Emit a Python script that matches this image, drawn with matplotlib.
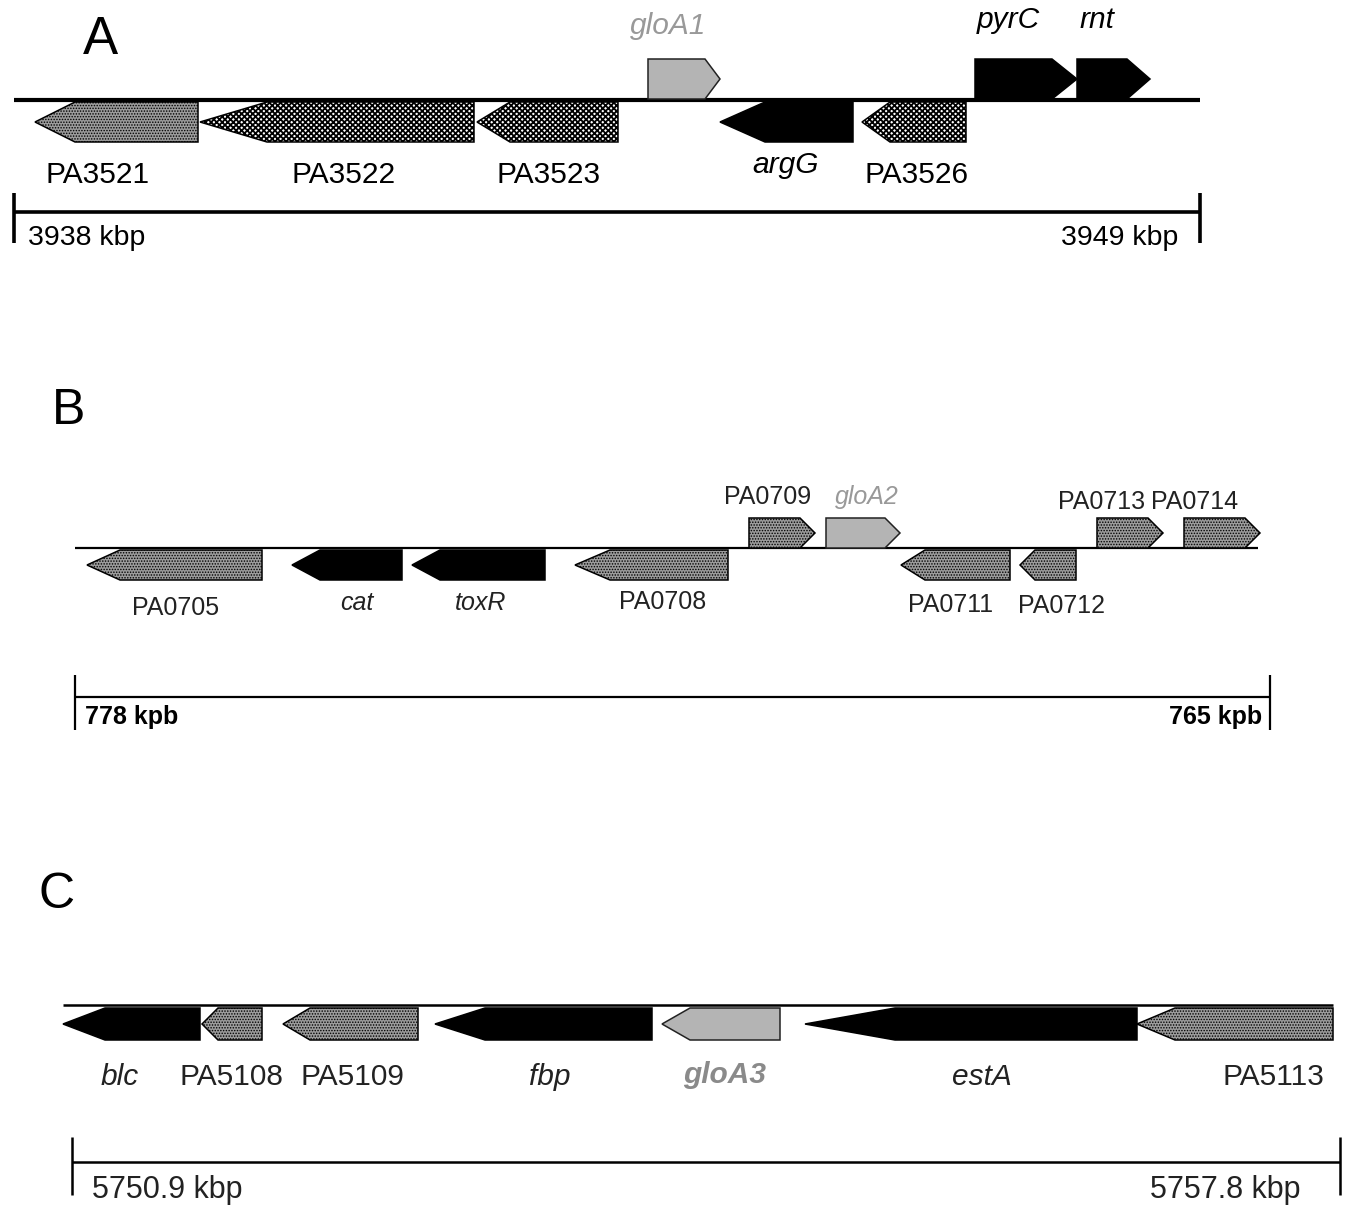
import matplotlib
matplotlib.use('Agg')
import matplotlib.pyplot as plt
from matplotlib.patches import Polygon

plt.rcParams['font.family'] = ['Liberation Sans', 'DejaVu Sans']
plt.rcParams['hatch.linewidth'] = 0.6

# ---- data: gene maps (positions in map units along each panel) ----
# kind: 'black' solid, 'dot' gray stippled, 'check' checkered, 'light' plain light gray
a_names = ['PA3521', 'PA3522', 'PA3523', 'gloA1', 'argG', 'PA3526', 'pyrC', 'rnt']
a_start = [35, 200, 477, 648, 720, 862, 975, 1077]
a_end = [198, 474, 618, 720, 853, 966, 1077, 1150]
a_strand = [-1, -1, -1, 1, -1, -1, 1, 1]
a_kind = ['dot', 'check', 'check', 'light', 'black', 'check', 'black', 'black']
a_ends = ['3938 kbp', '3949 kbp']

b_names = ['PA0705', 'cat', 'toxR', 'PA0708', 'PA0709', 'gloA2',
           'PA0711', 'PA0712', 'PA0713', 'PA0714']
b_start = [87, 292, 412, 575, 749, 826, 901, 1020, 1097, 1184]
b_end = [262, 402, 545, 728, 815, 900, 1010, 1076, 1163, 1260]
b_strand = [-1, -1, -1, -1, 1, 1, -1, -1, 1, 1]
b_kind = ['dot', 'black', 'black', 'dot', 'dot', 'light', 'dot', 'dot', 'dot', 'dot']
b_ends = ['778 kpb', '765 kpb']

c_names = ['blc', 'PA5108', 'PA5109', 'fbp', 'gloA3', 'estA', 'PA5113']
c_start = [63, 202, 283, 435, 662, 805, 1137]
c_end = [200, 262, 418, 652, 780, 1137, 1333]
c_strand = [-1, -1, -1, -1, -1, -1, -1]
c_kind = ['black', 'dot', 'dot', 'black', 'light', 'black', 'dot']
c_ends = ['5750.9 kbp', '5757.8 kbp']

# ---- layout ----
a_head = [40, 67, 33, 15, 45, 28, 25, 23]
b_head = [33, 28, 28, 35, 15, 15, 24, 15, 15, 15]
c_head = [42, 16, 27, 50, 28, 90, 38]
a_lab = [(98, 175), (344, 175), (549, 175), (668, 26), (786, 165), (917, 175), (1008, 20), (1097, 20)]
b_lab = [(176, 608), (357, 603), (481, 603), (663, 602), (768, 497), (867, 497),
         (951, 605), (1062, 606), (1102, 502), (1195, 502)]
c_lab = [(120, 1077), (231, 1077), (352, 1077), (550, 1077), (725, 1075), (982, 1077), (1273, 1077)]

styles = {
    'black': dict(facecolor='black', edgecolor='black', hatch=None, hlw=0.6),
    'dot': dict(facecolor='#9c9c9c', edgecolor='black', hatch='......', hlw=0.7),
    'check': dict(facecolor='white', edgecolor='black', hatch='xxxxxx', hlw=1.3),
    'light': dict(facecolor='#b4b4b4', edgecolor='#222222', hatch=None, hlw=0.6),
}

fig = plt.figure(figsize=(13.45, 12.09), dpi=100)
ax = fig.add_axes([0, 0, 1, 1])
ax.set_xlim(0, 1345)
ax.set_ylim(1209, 0)
ax.axis('off')


def gene(x0, x1, strand, head, y0, y1, kind):
    ym = (y0 + y1) / 2.0
    if strand > 0:
        hb = x1 - head
        pts = [(x0, y0), (hb, y0), (x1, ym), (hb, y1), (x0, y1)]
    else:
        hb = x0 + head
        pts = [(x1, y0), (hb, y0), (x0, ym), (hb, y1), (x1, y1)]
    st = styles[kind]
    p = Polygon(pts, closed=True, facecolor=st['facecolor'], edgecolor=st['edgecolor'],
                hatch=st['hatch'], lw=1.1, zorder=3)
    if hasattr(p, 'set_hatch_linewidth'):
        p.set_hatch_linewidth(st['hlw'])
    ax.add_patch(p)


def panel(names, starts, ends, strands, kinds, heads, labs, line_y, line_x, line_w,
          up, down, label_kw):
    ax.plot(line_x, [line_y, line_y], color='black', lw=line_w, solid_capstyle='butt', zorder=2)
    for i in range(len(names)):
        yy = up if strands[i] > 0 else down
        gene(starts[i], ends[i], strands[i], heads[i], yy[0], yy[1], kinds[i])
        kw = dict(label_kw)
        if not names[i].startswith('PA'):
            kw['style'] = 'italic'
        if names[i].startswith('gloA'):
            kw['color'] = '#999999'
        if names[i] == 'gloA3':
            kw['color'] = '#8a8a8a'
            kw['fontweight'] = 'bold'
        ax.text(labs[i][0], labs[i][1], names[i], ha='center', va='center', **kw)


def scalebar(y, x0, x1, t0, t1, lw, ends, lab_y, lab_x, kw):
    ax.plot([x0, x1], [y, y], color='black', lw=lw, solid_capstyle='butt')
    for x in (x0, x1):
        ax.plot([x, x], [t0, t1], color='black', lw=lw, solid_capstyle='butt')
    ax.text(lab_x[0], lab_y, ends[0], ha='left', va='center', **kw)
    ax.text(lab_x[1], lab_y, ends[1], ha='right', va='center', **kw)


# Panel A
ax.text(100, 40, 'A', fontsize=38, ha='center', va='center')
panel(a_names, a_start, a_end, a_strand, a_kind, a_head, a_lab, 100, [14, 1200], 3.0,
      (59, 99), (102, 142), dict(fontsize=21.5, color='black'))
scalebar(212, 14, 1200, 193, 243, 2.6, a_ends, 238, (28, 1178), dict(fontsize=20.5, color='black'))

# Panel B
ax.text(69, 411, 'B', fontsize=36, ha='center', va='center')
panel(b_names, b_start, b_end, b_strand, b_kind, b_head, b_lab, 548, [75, 1258], 1.6,
      (518, 548), (550, 580), dict(fontsize=18, color='#222222'))
scalebar(697, 75, 1270, 675, 730, 1.6, b_ends, 717, (85, 1262),
         dict(fontsize=18, color='black', fontweight='bold'))

# Panel C
ax.text(57, 895, 'C', fontsize=36, ha='center', va='center')
panel(c_names, c_start, c_end, c_strand, c_kind, c_head, c_lab, 1005, [63, 1333], 1.8,
      (974, 1004), (1008, 1040), dict(fontsize=21.5, color='#222222'))
scalebar(1162, 72, 1340, 1137, 1195, 1.8, c_ends, 1190, (92, 1300),
         dict(fontsize=22, color='#222222'))

fig.savefig('out.png', dpi=100)
